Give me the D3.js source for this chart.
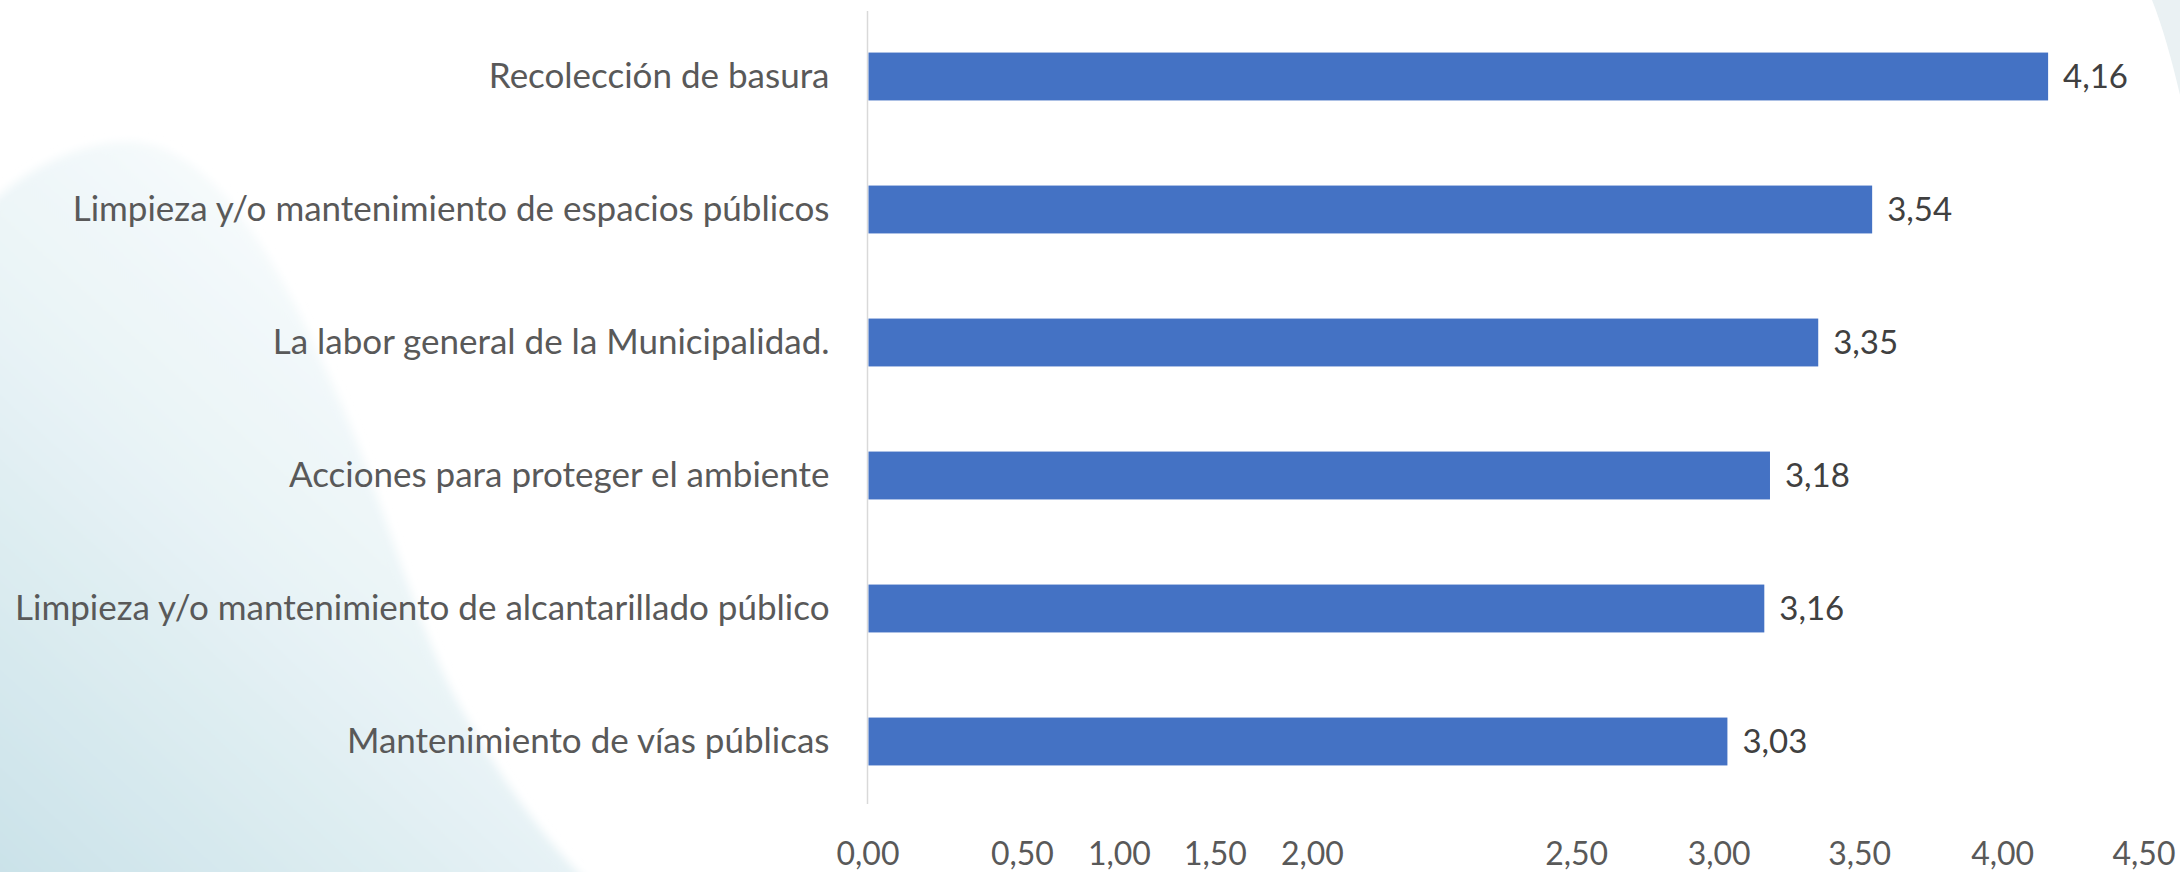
<!DOCTYPE html>
<html>
<head>
<meta charset="utf-8">
<script src="https://cdn.jsdelivr.net/npm/d3@7"></script>
<style>
  html, body { margin: 0; padding: 0; background: #ffffff; }
  svg { display: block; }
  text { font-family: Lato, "Open Sans", sans-serif; }
</style>
</head>
<body>
<svg id="chart" width="2180" height="872"></svg>
<script>
// data
const categories = [
  "Recolección de basura",
  "Limpieza y/o mantenimiento de espacios públicos",
  "La labor general de la Municipalidad.",
  "Acciones para proteger el ambiente",
  "Limpieza y/o mantenimiento de alcantarillado público",
  "Mantenimiento de vías públicas"
];
const values = [4.16, 3.54, 3.35, 3.18, 3.16, 3.03];

// axis labels, and where they sit along the axis in the original (they are not evenly placed)
const tickLabels = ["0,00", "0,50", "1,00", "1,50", "2,00", "2,50", "3,00", "3,50", "4,00", "4,50"];
const tickAt = [0, 0.544, 0.886, 1.224, 1.566, 2.497, 2.999, 3.494, 3.998, 4.496];

const width = 2180;
const height = 872;
const margin = { top: 10, right: 35, bottom: 64, left: 867.5 };

const svg = d3.select("#chart");

// soft background shapes
const defs = svg.append("defs");
const grad = defs.append("linearGradient")
  .attr("id", "blob")
  .attr("x1", "0").attr("y1", "1")
  .attr("x2", "0.75").attr("y2", "0");
grad.append("stop").attr("offset", "0").attr("stop-color", "#c9e1e8");
grad.append("stop").attr("offset", "0.5").attr("stop-color", "#e8f3f6");
grad.append("stop").attr("offset", "1").attr("stop-color", "#ffffff");

defs.append("filter")
  .attr("id", "soft")
  .attr("x", "-10%").attr("y", "-10%")
  .attr("width", "130%").attr("height", "130%")
  .append("feGaussianBlur")
  .attr("stdDeviation", 5);

svg.append("path")
  .attr("d", "M-20,215 C25,165 85,140 135,142 C225,150 290,290 335,390 C385,500 415,630 465,715 C505,785 545,840 590,885 L-20,885 Z")
  .attr("fill", "url(#blob)")
  .attr("filter", "url(#soft)");

svg.append("path")
  .attr("d", "M2152,0 L2180,0 L2180,95 C2172,60 2162,25 2152,0 Z")
  .attr("fill", "#eaf1f3");

const fmt = (v) => v.toFixed(2).replace(".", ",");

// scales
const x = d3.scaleLinear()
  .domain([0, 4.5])
  .range([margin.left, margin.left + 4.5 * 283.8]);

const y = d3.scaleBand()
  .domain(categories)
  .range([margin.top, height - margin.bottom])
  .paddingInner(0.64)
  .paddingOuter(0.32);

// vertical axis line
svg.append("line")
  .attr("x1", x(0)).attr("x2", x(0))
  .attr("y1", 11).attr("y2", 804)
  .attr("stroke", "#d9d9d9")
  .attr("stroke-width", 1.5);

// category labels
const yAxis = d3.axisLeft(y).tickSize(0).tickPadding(38);
svg.append("g")
  .attr("transform", `translate(${x(0)},0)`)
  .call(yAxis)
  .call((g) => g.select(".domain").remove())
  .call((g) => g.selectAll("text")
    .attr("fill", "#595959")
    .style("font-size", "35px")
    .style("font-family", "Lato, 'Open Sans', sans-serif"));

// bars
svg.selectAll(".bar")
  .data(values)
  .enter()
  .append("rect")
  .attr("class", "bar")
  .attr("x", x(0) + 1)
  .attr("y", (d, i) => y(categories[i]))
  .attr("width", (d) => x(d) - x(0) - 1)
  .attr("height", y.bandwidth())
  .attr("fill", "#4472c4");

// value labels
svg.selectAll(".bar-label")
  .data(values)
  .enter()
  .append("text")
  .attr("class", "bar-label")
  .attr("x", (d) => x(d) + 15)
  .attr("y", (d, i) => y(categories[i]) + y.bandwidth() / 2)
  .attr("dy", "0.36em")
  .attr("fill", "#404040")
  .style("font-size", "33px")
  .text(fmt);

// bottom tick labels
const xAxis = d3.axisBottom(x)
  .tickValues(tickAt)
  .tickFormat((d, i) => tickLabels[i])
  .tickSize(0)
  .tickPadding(0);

svg.append("g")
  .attr("transform", `translate(0,${853})`)
  .call(xAxis)
  .call((g) => g.select(".domain").remove())
  .call((g) => g.selectAll("text")
    .attr("dy", "0.36em")
    .attr("y", 0)
    .attr("fill", "#595959")
    .style("font-size", "32px")
    .style("font-family", "Lato, 'Open Sans', sans-serif"));
</script>
</body>
</html>
